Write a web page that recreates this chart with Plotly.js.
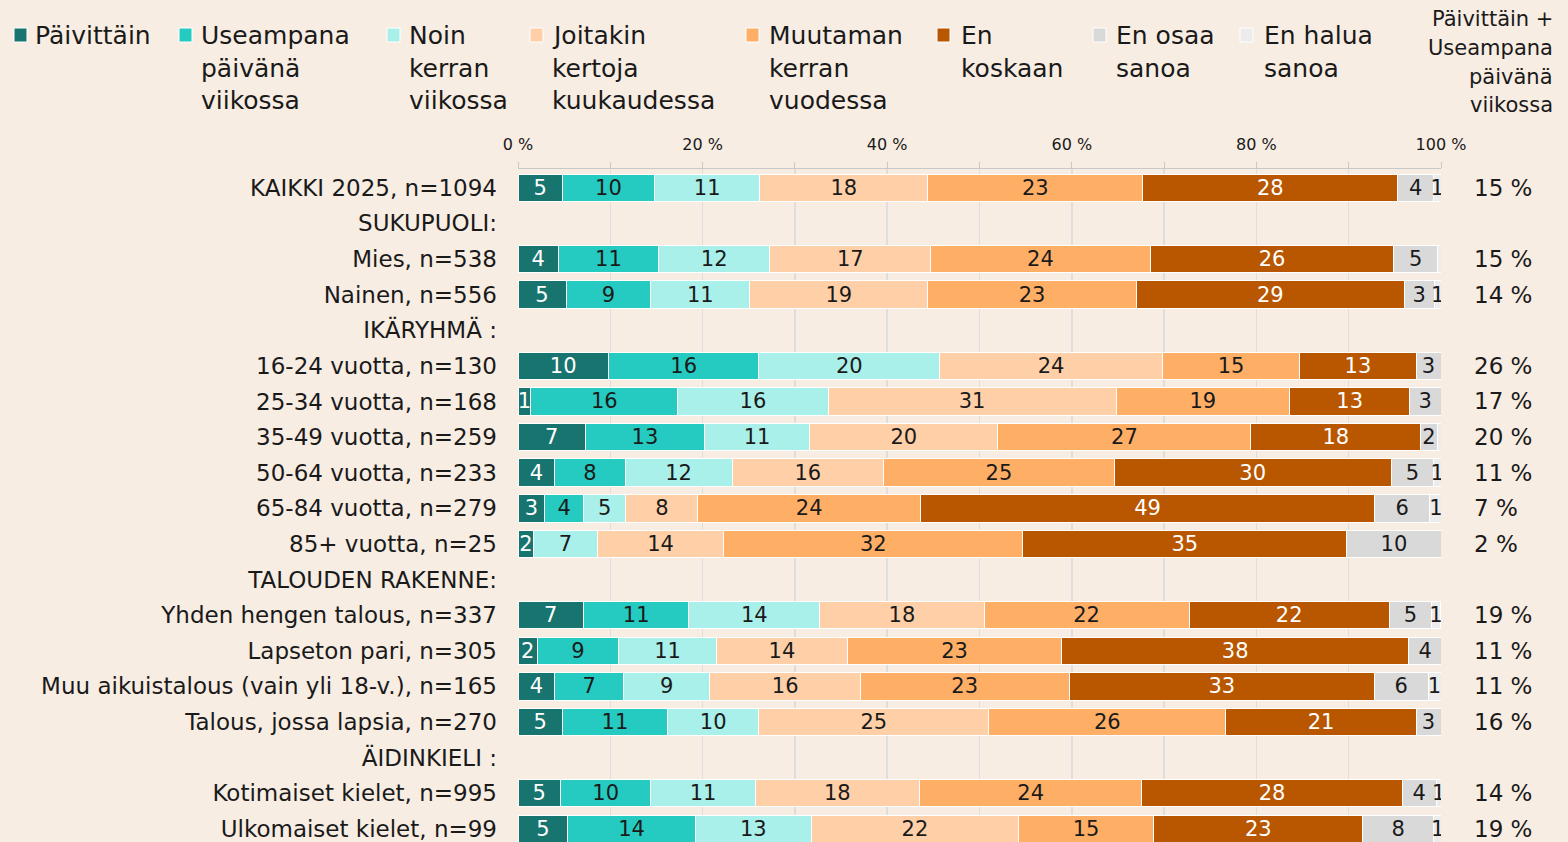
<!DOCTYPE html>
<html>
<head>
<meta charset="utf-8">
<script src="https://cdn.plot.ly/plotly-3.0.1.min.js"></script>
<style>
html,body{margin:0;padding:0;background:#F8EDE3;}
#chart{width:1568px;height:842px;}
</style>
</head>
<body>
<div id="chart"></div>
<script>
// ---------------- DATA ----------------
const categories = [
  'KAIKKI 2025, n=1094','SUKUPUOLI:','Mies, n=538','Nainen, n=556','IKÄRYHMÄ :',
  '16-24 vuotta, n=130','25-34 vuotta, n=168','35-49 vuotta, n=259','50-64 vuotta, n=233',
  '65-84 vuotta, n=279','85+ vuotta, n=25','TALOUDEN RAKENNE:','Yhden hengen talous, n=337',
  'Lapseton pari, n=305','Muu aikuistalous (vain yli 18-v.), n=165','Talous, jossa lapsia, n=270',
  'ÄIDINKIELI :','Kotimaiset kielet, n=995','Ulkomaiset kielet, n=99'
];
const seriesNames = ['Päivittäin','Useampana päivänä viikossa','Noin kerran viikossa',
  'Joitakin kertoja kuukaudessa','Muutaman kerran vuodessa','En koskaan','En osaa sanoa','En halua sanoa'];
const legendLines = [['Päivittäin'],['Useampana','päivänä','viikossa'],['Noin','kerran','viikossa'],
  ['Joitakin','kertoja','kuukaudessa'],['Muutaman','kerran','vuodessa'],['En','koskaan'],['En osaa','sanoa'],['En halua','sanoa']];

const paivittain = [4.8,null,4.4,5.2,null,9.8,1.4,7.3,4.0,2.9,1.7,null,7.1,2.1,4.0,4.8,null,4.6,5.4];
const useampana  = [10.0,null,10.8,9.2,null,16.3,15.9,12.9,7.6,4.2,0,null,11.4,8.8,7.4,11.4,null,9.8,13.8];
const noinKerran = [11.4,null,12.1,10.7,null,19.6,16.3,11.4,11.6,4.6,6.9,null,14.2,10.6,9.4,9.9,null,11.3,12.6];
const joitakin   = [18.2,null,17.4,19.3,null,24.1,31.2,20.4,16.4,7.8,13.7,null,17.8,14.2,16.3,24.9,null,17.8,22.4];
const muutaman   = [23.3,null,23.8,22.6,null,14.9,18.8,27.4,25.0,24.1,32.4,null,22.2,23.2,22.6,25.7,null,24.1,14.7];
const enKoskaan  = [27.6,null,26.4,29.0,null,12.6,13.0,18.4,30.0,49.2,35.1,null,21.7,37.6,33.1,20.6,null,28.2,22.6];
const enOsaa     = [3.9,null,4.7,3.3,null,2.7,3.4,1.8,4.6,6.0,10.2,null,4.6,3.6,5.8,2.7,null,3.7,7.7];
const enHalua    = [0.8,null,0.4,0.7,null,0,0,0.4,0.8,1.3,0,null,0.9,0,1.4,0,null,0.5,0.9];
const weeklyTotal = [15,null,15,14,null,26,17,20,11,7,2,null,19,11,11,16,null,14,19];

const headerLines = ['Päivittäin +','Useampana','päivänä','viikossa'];
const tickVals = [0,20,40,60,80,100];
const tickText = tickVals.map(v => v + ' %');

// ---------------- STYLE ----------------
const FONT = 'DejaVu Sans';
const colors = ['#18746E','#25CBC0','#AAF0EA','#FFD0A8','#FFAE66','#B85700','#D9D9D9','#ECECEC'];
const textColors = ['#ffffff','#1a1a1a','#1a1a1a','#1a1a1a','#1a1a1a','#ffffff','#1a1a1a','#1a1a1a'];
const allSeries = [paivittain,useampana,noinKerran,joitakin,muutaman,enKoskaan,enOsaa,enHalua];

const W = 1568, H = 842;
const L = 518, R = 127, T = 169, B = 0;
const PW = W - L - R, PH = H - T - B;
const px2x = px => (px - L) / PW;
const py2y = py => (H - B - py) / PH;

const traces = allSeries.map((vals, i) => ({
  type: 'bar',
  orientation: 'h',
  name: seriesNames[i],
  y: categories,
  x: vals,
  width: 0.77,
  marker: {color: colors[i], line: {color: '#ffffff', width: 1}},
  text: vals.map(v => (v === null || v < 0.45) ? '' : String(Math.round(v))),
  textposition: 'inside',
  insidetextanchor: 'middle',
  textangle: 0,
  textfont: {family: FONT, size: 21, color: textColors[i]},
  hoverinfo: 'skip',
  cliponaxis: true
}));

const annotations = [];
const shapes = [];
const legendSquareX = [14,179,387,530,746,937,1093,1240];
const legendTextX = [33,199,407,550,767,959,1114,1262];
const legendLineY = [35,68,101];
legendLines.forEach((lines, i) => {
  shapes.push({type:'rect', xref:'paper', yref:'paper',
    x0: px2x(legendSquareX[i]), x1: px2x(legendSquareX[i] + 13),
    y0: py2y(28), y1: py2y(42),
    fillcolor: colors[i], line: {color: '#ffffff', width: 1}, layer: 'above'});
  lines.forEach((t, j) => {
    annotations.push({xref:'paper', yref:'paper', x: px2x(legendTextX[i]), y: py2y(legendLineY[j]),
      xanchor:'left', yanchor:'middle', showarrow:false, text:t,
      font:{family: FONT, size: 25, color:'#1a1a1a'}});
  });
});
const headerY = [19,48,76.5,105];
headerLines.forEach((t, j) => {
  annotations.push({xref:'paper', yref:'paper', x: px2x(1555), y: py2y(headerY[j]),
    xanchor:'right', yanchor:'middle', showarrow:false, text:t, align:'right',
    font:{family: FONT, size: 21, color:'#1a1a1a'}});
});
weeklyTotal.forEach((v, k) => {
  if (v === null) return;
  annotations.push({xref:'paper', yref:'y', x: px2x(1472), y: categories[k],
    xanchor:'left', yanchor:'middle', showarrow:false, text: v + ' %',
    font:{family: FONT, size: 23, color:'#1a1a1a'}});
});

const layout = {
  width: W, height: H,
  margin: {l: L, r: R, t: T, b: B, pad: 0},
  paper_bgcolor: '#F8EDE3',
  plot_bgcolor: '#F8EDE3',
  barmode: 'stack',
  showlegend: false,
  uniformtext: {mode: 'show', minsize: 21},
  font: {family: FONT, color: '#1a1a1a'},
  xaxis: {
    side: 'top', range: [0, 100], autorange: false,
    tickmode: 'array', tickvals: tickVals, ticktext: tickText,
    ticks: 'outside', ticklen: 6, tickwidth: 1, tickcolor: '#c8c8c8',
    showline: true, linecolor: '#c8c8c8', linewidth: 1,
    showgrid: true, gridcolor: '#dedede', gridwidth: 1.5,
    zeroline: false,
    ticklabelstandoff: 6,
    tickfont: {family: FONT, size: 16, color: '#1a1a1a'},
    minor: {dtick: 10, tick0: 0, ticks: 'outside', ticklen: 6, tickcolor: '#c8c8c8', showgrid: true, gridcolor: '#dedede', gridwidth: 1.5},
    fixedrange: true
  },
  yaxis: {
    type: 'category', categoryorder: 'array', categoryarray: categories,
    range: [18.37, -0.528], autorange: false,
    showgrid: false, zeroline: false, showline: false, ticks: '',
    ticklabelstandoff: 20,
    tickfont: {family: FONT, size: 23, color: '#1a1a1a'},
    fixedrange: true
  },
  annotations: annotations,
  shapes: shapes
};

Plotly.newPlot('chart', traces, layout, {staticPlot: true, displayModeBar: false});
</script>
</body>
</html>
